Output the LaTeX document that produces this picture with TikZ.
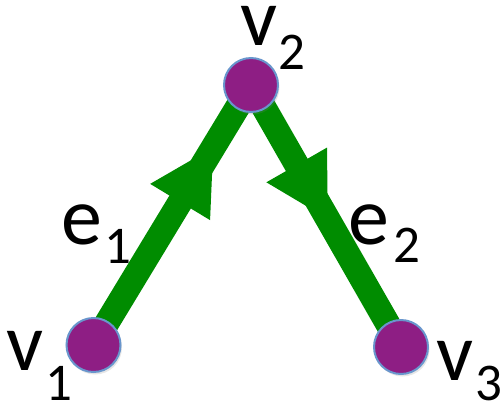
\documentclass[tikz,border=0pt]{standalone}
\usepackage{fontspec}
\setmainfont{Carlito}
\usetikzlibrary{calc,backgrounds,shadows}
\definecolor{vpurple}{RGB}{142,30,132}
\definecolor{vblue}{RGB}{105,150,205}
\definecolor{egreen}{RGB}{0,140,0}
\begin{document}
\begin{tikzpicture}[x=1pt,y=-1pt,
  vert/.style={circle,fill=vpurple,draw=vblue,line width=2pt,minimum size=54pt,inner sep=0pt,
    drop shadow={opacity=0.2,shadow xshift=1.5pt,shadow yshift=-2.5pt}},
  edgeline/.style={egreen,line width=25pt},
  arrowhead/.style={fill=egreen},
  big/.style={inner sep=0pt,anchor=base west,font=\fontsize{82}{82}\selectfont},
  sub/.style={inner sep=0pt,anchor=base west,font=\fontsize{53}{53}\selectfont}]
\useasboundingbox (0,0) rectangle (502,405);
\node[vert] (v1) at (93.5,345) {};
\node[vert] (v2) at (251,85) {};
\node[vert] (v3) at (401,347) {};
\begin{pgfonlayer}{background}
\draw[edgeline] (v1.center) -- (v2.center);
\draw[edgeline] (v2.center) -- (v3.center);
\coordinate (t1) at ($(v1.center)!0.76!(v2.center)$);
\coordinate (b1) at ($(v1.center)!0.55!(v2.center)$);
\fill[arrowhead] (t1) -- ($(b1)!35pt!90:(t1)$) -- ($(b1)!35pt!-90:(t1)$) -- cycle;
\coordinate (t2) at ($(v2.center)!0.51!(v3.center)$);
\coordinate (b2) at ($(v2.center)!0.305!(v3.center)$);
\fill[arrowhead] (t2) -- ($(b2)!35pt!90:(t2)$) -- ($(b2)!35pt!-90:(t2)$) -- cycle;
\end{pgfonlayer}
% labels
\node[big] (lv2) at (240,45) {v};
\node[sub] (lv2s) at (278,69) {2};
\node[big] (le1) at (61,244) {e};
\node[sub] (le1s) at (104,263) {1};
\node[big] (le2) at (348,244) {e};
\node[sub] (le2s) at (393,262) {2};
\node[big] (lv3) at (436,380) {v};
\node[sub] (lv3s) at (475,400) {3};
\node[big] (lv1) at (6,370) {v};
\node[sub] (lv1s) at (45,400) {1};
\end{tikzpicture}
\end{document}
